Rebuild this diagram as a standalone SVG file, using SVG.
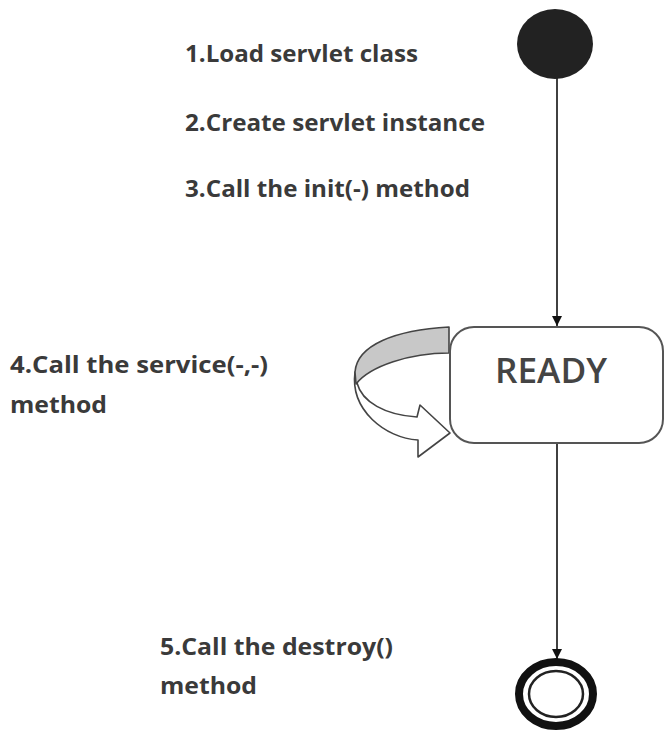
<svg xmlns="http://www.w3.org/2000/svg" width="665" height="730" viewBox="0 0 665 730">
<defs>
<style>
.lbl{font-family:"Open Sans","Liberation Sans",sans-serif;font-weight:700;font-size:23px;fill:#3a3a3a}
.conn{stroke:#111;stroke-width:1.6;fill:none}
</style>
<marker id="ah" viewBox="0 0 10 10" refX="10" refY="5" markerWidth="10" markerHeight="10" markerUnits="userSpaceOnUse" orient="auto">
<path d="M0,0 L10,5 L0,10 Z" fill="#111"/>
</marker>
</defs>
<rect width="665" height="730" fill="#fff"/>
<g id="labels">
<text class="lbl" x="185" y="62" textLength="233" lengthAdjust="spacingAndGlyphs">1.Load servlet class</text>
<text class="lbl" x="185" y="131" textLength="300" lengthAdjust="spacingAndGlyphs">2.Create servlet instance</text>
<text class="lbl" x="185" y="197" textLength="285" lengthAdjust="spacingAndGlyphs">3.Call the init(-) method</text>
<text class="lbl" x="10" y="373" textLength="258" lengthAdjust="spacingAndGlyphs">4.Call the service(-,-)</text>
<text class="lbl" x="10" y="413" textLength="97" lengthAdjust="spacingAndGlyphs">method</text>
<text class="lbl" x="160" y="655" textLength="233" lengthAdjust="spacingAndGlyphs">5.Call the destroy()</text>
<text class="lbl" x="160" y="694" textLength="97" lengthAdjust="spacingAndGlyphs">method</text>
</g>
<g id="connectors">
<line class="conn" x1="557" y1="78" x2="557" y2="326" marker-end="url(#ah)"/>
<line class="conn" x1="557" y1="443" x2="557" y2="659" marker-end="url(#ah)"/>
<path id="selfloop-front" d="M355,372 C350,410 385,438 418,440 L418,457 L450,433 L420,405 L417,417 C385,415 362,402 357,383 Z" fill="#fff" stroke="#444" stroke-width="1.6" stroke-linejoin="round"/>
<path id="selfloop-back" d="M449,327 C395,330 357,345 355,372 L356,384 C370,366 410,353 449,353 Z" fill="#c8c8c8" stroke="#444" stroke-width="1.6" stroke-linejoin="round"/>
</g>
<g id="start">
<ellipse cx="555" cy="44" rx="38" ry="35" fill="#222"/>
</g>
<g id="ready">
<rect x="450" y="327" width="213" height="116" rx="24" ry="24" fill="#fff" stroke="#555" stroke-width="2"/>
<text x="495" y="383" textLength="112" lengthAdjust="spacingAndGlyphs" style="font-family:'Open Sans','Liberation Sans',sans-serif;font-weight:600;font-size:34px;fill:#444">READY</text>
</g>
<g id="end">
<ellipse cx="556" cy="694" rx="37" ry="32" fill="#fff" stroke="#111" stroke-width="8"/>
<ellipse cx="556" cy="694" rx="27" ry="23" fill="#fff" stroke="#222" stroke-width="2.5"/>
</g>
</svg>
